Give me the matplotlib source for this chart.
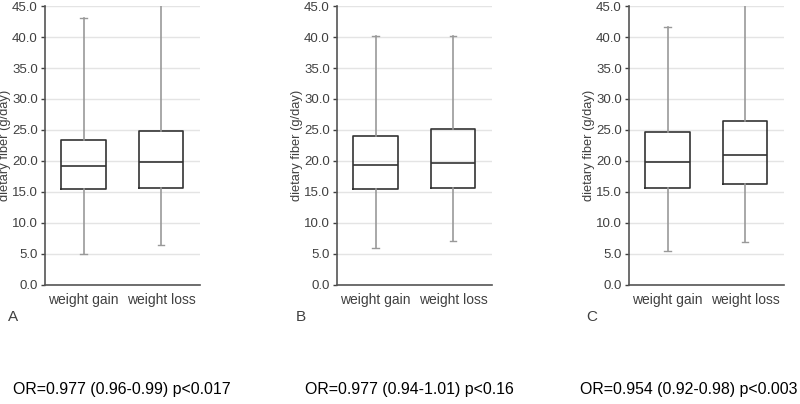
import matplotlib.pyplot as plt

# box statistics (g/day)
groups = ['weight gain', 'weight loss']
panels = ['A', 'B', 'C']
whislo = [[4.9, 6.5], [6.0, 7.1], [5.5, 6.9]]
q1 = [[15.4, 15.7], [15.4, 15.7], [15.6, 16.2]]
med = [[19.2, 19.8], [19.4, 19.6], [19.9, 20.9]]
q3 = [[23.4, 24.8], [24.1, 25.2], [24.6, 26.4]]
whishi = [[43.0, 48.0], [40.1, 40.2], [41.7, 48.0]]
or_text = ['OR=0.977 (0.96-0.99) p<0.017',
           'OR=0.977 (0.94-1.01) p<0.16',
           'OR=0.954 (0.92-0.98) p<0.003']

plt.rcParams['font.family'] = ['Liberation Sans', 'DejaVu Sans']

fig = plt.figure(figsize=(8, 4.04), dpi=100)
lefts = [0.056, 0.421, 0.786]
text_x = [0.016, 0.381, 0.725]
label_x = [0.010, 0.370, 0.733]

for i, p in enumerate(panels):
    ax = fig.add_axes([lefts[i], 0.295, 0.194, 0.69])
    stats = []
    for j, g in enumerate(groups):
        stats.append(dict(label=g, whislo=whislo[i][j], q1=q1[i][j], med=med[i][j],
                          q3=q3[i][j], whishi=whishi[i][j], fliers=[]))
    ax.bxp(stats, positions=[1, 2], widths=0.57, showfliers=False,
           boxprops=dict(color='#333333', linewidth=1.2),
           medianprops=dict(color='#333333', linewidth=1.2),
           whiskerprops=dict(color='#999999', linewidth=1.2),
           capprops=dict(color='#999999', linewidth=1.0), capwidths=0.08)
    ax.set_xlim(0.5, 2.5)
    ax.set_ylim(0, 45)
    ax.set_yticks([0, 5, 10, 15, 20, 25, 30, 35, 40, 45])
    ax.set_yticklabels(['%.1f' % v for v in ax.get_yticks()])
    ax.yaxis.grid(True, color='#e4e4e4', linewidth=1.0)
    ax.set_axisbelow(True)
    for s in ['top', 'right']:
        ax.spines[s].set_visible(False)
    for s in ['left', 'bottom']:
        ax.spines[s].set_color('#555555')
        ax.spines[s].set_linewidth(1.2)
    ax.tick_params(axis='y', labelsize=9.5, colors='#404040', length=3, width=1, pad=2)
    ax.tick_params(axis='x', labelsize=10, colors='#404040', length=0, pad=6)
    ax.set_ylabel('dietary fiber (g/day)', fontsize=9.3, color='#404040', labelpad=1)
    fig.text(label_x[i], 0.205, p, fontsize=11, color='#404040')
    fig.text(text_x[i], 0.025, or_text[i], fontsize=11.4, color='black')

fig.savefig('out.png')
